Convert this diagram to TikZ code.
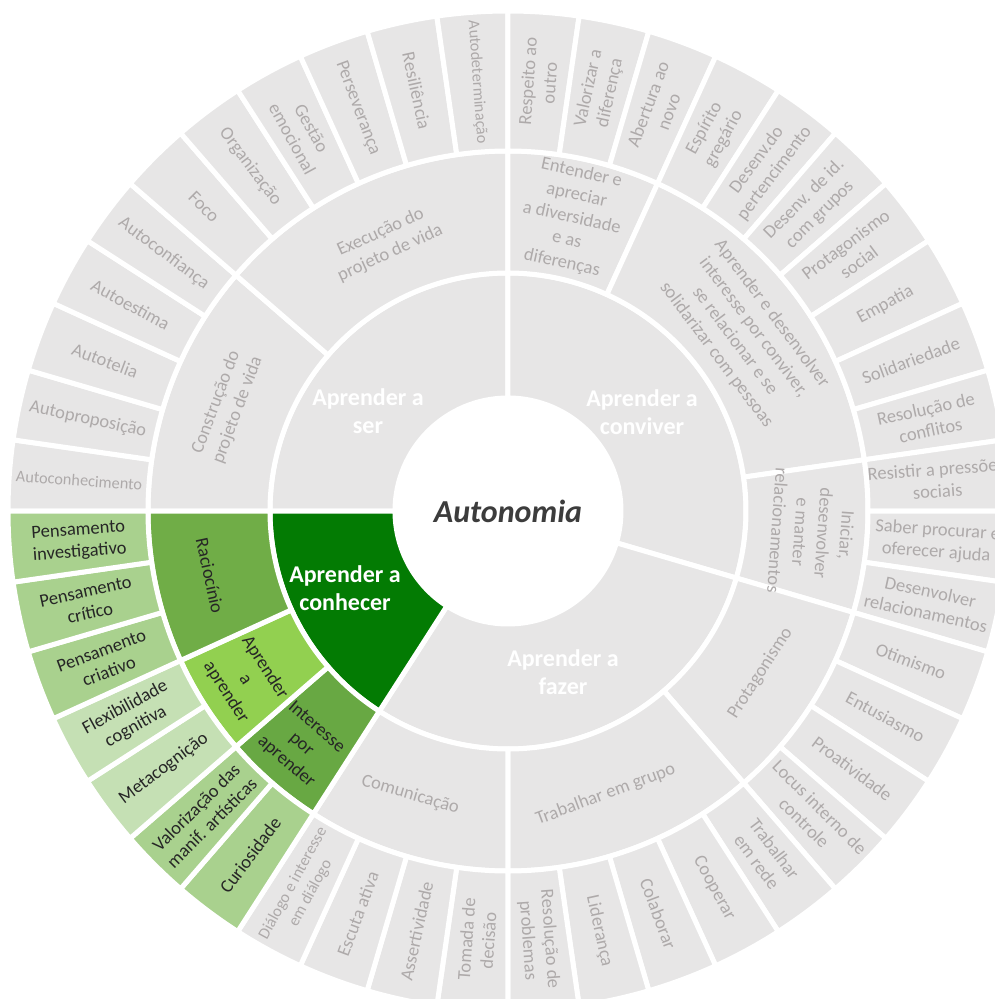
\documentclass[tikz,border=0pt]{standalone}
\usepackage{fontspec}
\setmainfont{Carlito}
\definecolor{greyfill}{HTML}{E7E6E6}
\definecolor{txtgrey}{HTML}{AEAAAA}
\definecolor{txtdark}{HTML}{262626}
\definecolor{conhecerc}{HTML}{037B03}
\definecolor{raciocinioc}{HTML}{70AD47}
\definecolor{aprenderc}{HTML}{92D050}
\definecolor{interessec}{HTML}{68A843}
\definecolor{greenmid}{HTML}{A9D18E}
\definecolor{greenlight}{HTML}{C5E0B4}
\definecolor{centertxt}{HTML}{3C3C3C}
\tikzset{
  cellsty/.style={draw=white, line width=5pt, line join=round},
  lab3/.style={font=\fontsize{18.5}{22}\selectfont, align=center, inner sep=0pt},
  lab2/.style={font=\fontsize{18.5}{23}\selectfont, align=center, inner sep=0pt},
  lab1/.style={font=\fontsize{24}{28}\selectfont\bfseries, text=white, align=center, inner sep=0pt},
  glab/.style={text=txtgrey},
  dlab/.style={text=txtdark},
  small/.style={font=\fontsize{16.3}{20}\selectfont},
}
\newcommand\sector[5]{\filldraw[cellsty, fill=#5] (#3:#1pt) arc[start angle=#3, end angle=#4, radius=#1pt] -- (#4:#2pt) arc[start angle=#4, end angle=#3, radius=#2pt] -- cycle;}
\newcommand\leafsector[2]{%
  \pgfmathsetmacro\lfA{180-#1*360/44}%
  \pgfmathsetmacro\lfB{180-(#1+1)*360/44}%
  \sector{360}{500}{\lfA}{\lfB}{#2}}
\newcommand\leaflabel[4]{%
  \pgfmathsetmacro\lfM{180-(#1+0.5)*360/44}%
  \pgfmathsetmacro\lfR{\lfM>90 ? \lfM-180 : (\lfM<-90 ? \lfM+180 : \lfM)}%
  \node[lab3, rotate=\lfR, #4] (#2) at (\lfM:430pt) {#3};}
\begin{document}
\begin{tikzpicture}
\useasboundingbox (-508pt,-488pt) rectangle (487pt,511pt);
\fill[white] (-508pt,-488pt) rectangle (487pt,511pt);
\clip (-508pt,-488pt) rectangle (487pt,511pt);
% ring 1
\sector{113}{238}{180}{90}{greyfill}
\sector{113}{238}{90}{-16.364}{greyfill}
\sector{113}{238}{-16.364}{-122.727}{greyfill}
\sector{113}{238}{-122.727}{-180}{conhecerc}
% ring 2
\sector{238}{360}{180}{139.091}{greyfill}
\sector{238}{360}{139.091}{90}{greyfill}
\sector{238}{360}{90}{65.455}{greyfill}
\sector{238}{360}{65.455}{8.182}{greyfill}
\sector{238}{360}{8.182}{-16.364}{greyfill}
\sector{238}{360}{-16.364}{-49.091}{greyfill}
\sector{238}{360}{-49.091}{-90}{greyfill}
\sector{238}{360}{-90}{-122.727}{greyfill}
\sector{238}{360}{-122.727}{-139.091}{interessec}
\sector{238}{360}{-139.091}{-155.455}{aprenderc}
\sector{238}{360}{-155.455}{-180}{raciocinioc}
% ring 3
\foreach \i in {0,...,36} {\leafsector{\i}{greyfill}}
\leafsector{37}{greenmid}
\leafsector{38}{greenmid}
\leafsector{39}{greenlight}
\leafsector{40}{greenlight}
\leafsector{41}{greenmid}
\leafsector{42}{greenmid}
\leafsector{43}{greenmid}
% centre
\node[font=\fontsize{32}{36}\selectfont\bfseries\itshape, text=centertxt] (autonomia) at (0,0) {Autonomia};
% ring 1 labels
\node[lab1] (ser) at (-140pt,100pt) {Aprender a\\ser};
\node[lab1] (conviver) at (134pt,99pt) {Aprender a\\conviver};
\node[lab1] (conhecer) at (-163pt,-77pt) {Aprender a\\conhecer};
\node[lab1] (fazer) at (55pt,-161pt) {Aprender a\\fazer};
% ring 2 labels
\node[lab2, glab, rotate=69.545] (construcao) at (159.545:300pt) {Construção do\\projeto de vida};
\node[lab2, glab, rotate=24.545] (execucao) at (114.545:295pt) {Execução do\\projeto de vida};
\node[lab2, glab, rotate=-12.273] (entender) at (77.727:300pt) {Entender e\\apreciar\\a diversidade\\e as\\diferenças};
\node[lab2, glab, rotate=-53.182] (interconv) at (36.818:295pt) {Aprender e desenvolver\\interesse por conviver,\\se relacionar e se\\solidarizar com pessoas};
\node[lab2, glab, rotate=-94.091] (iniciar) at (-4.091:305pt) {Iniciar,\\desenvolver\\e manter\\relacionamentos};
\node[lab2, glab, rotate=57.273] (protagonismo) at (-32.727:300pt) {Protagonismo};
\node[lab2, glab, rotate=20.455] (trabgrupo) at (-71:300pt) {Trabalhar em grupo};
\node[lab2, glab, rotate=-16.364] (comunicacao) at (-109:300pt) {Comunicação};
\node[lab2, dlab, rotate=-40.909] (interesse) at (-131.5:312pt) {Interesse\\por\\aprender};
\node[lab2, dlab, rotate=-57.273] (aprapr) at (-147.273:312pt) {Aprender\\a\\aprender};
\node[lab2, dlab, rotate=-77.727] (raciocinio) at (-167.727:305pt) {Raciocínio};
% ring 3 labels
\leaflabel{0}{autoconhecimento}{Autoconhecimento}{glab, small}
\leaflabel{1}{autoproposicao}{Autoproposição}{glab}
\leaflabel{2}{autotelia}{Autotelia}{glab}
\leaflabel{3}{autoestima}{Autoestima}{glab}
\leaflabel{4}{autoconfianca}{Autoconfiança}{glab}
\leaflabel{5}{foco}{Foco}{glab}
\leaflabel{6}{organizacao}{Organização}{glab}
\leaflabel{7}{gestao}{Gestão\\emocional}{glab}
\leaflabel{8}{perseveranca}{Perseverança}{glab}
\leaflabel{9}{resiliencia}{Resiliência}{glab}
\leaflabel{10}{autodeterminacao}{Autodeterminação}{glab, small}
\leaflabel{11}{respeito}{Respeito ao\\outro}{glab}
\leaflabel{12}{valorizar}{Valorizar a\\diferença}{glab}
\leaflabel{13}{abertura}{Abertura ao\\novo}{glab}
\leaflabel{14}{espirito}{Espírito\\gregário}{glab}
\leaflabel{15}{pertencimento}{Desenv.do\\pertencimento}{glab}
\leaflabel{16}{identidade}{Desenv. de id.\\com grupos}{glab}
\leaflabel{17}{protsocial}{Protagonismo\\social}{glab}
\leaflabel{18}{empatia}{Empatia}{glab}
\leaflabel{19}{solidariedade}{Solidariedade}{glab}
\leaflabel{20}{resolucao}{Resolução de\\conflitos}{glab}
\leaflabel{21}{resistir}{Resistir a pressões\\sociais}{glab}
\leaflabel{22}{saber}{Saber procurar e\\oferecer ajuda}{glab}
\leaflabel{23}{desenvolver}{Desenvolver\\relacionamentos}{glab}
\leaflabel{24}{otimismo}{Otimismo}{glab}
\leaflabel{25}{entusiasmo}{Entusiasmo}{glab}
\leaflabel{26}{proatividade}{Proatividade}{glab}
\leaflabel{27}{locus}{Locus interno de\\controle}{glab}
\leaflabel{28}{rede}{Trabalhar\\em rede}{glab}
\leaflabel{29}{cooperar}{Cooperar}{glab}
\leaflabel{30}{colaborar}{Colaborar}{glab}
\leaflabel{31}{lideranca}{Liderança}{glab}
\leaflabel{32}{problemas}{Resolução de\\problemas}{glab}
\leaflabel{33}{decisao}{Tomada de\\decisão}{glab}
\leaflabel{34}{assertividade}{Assertividade}{glab}
\leaflabel{35}{escuta}{Escuta ativa}{glab}
\leaflabel{36}{dialogo}{Diálogo e interesse\\em diálogo}{glab, small}
\leaflabel{37}{curiosidade}{Curiosidade}{dlab}
\leaflabel{38}{valorizacao}{Valorização das\\manif. artísticas}{dlab}
\leaflabel{39}{metacognicao}{Metacognição}{dlab}
\leaflabel{40}{flexibilidade}{Flexibilidade\\cognitiva}{dlab}
\leaflabel{41}{criativo}{Pensamento\\criativo}{dlab}
\leaflabel{42}{critico}{Pensamento\\crítico}{dlab}
\leaflabel{43}{investigativo}{Pensamento\\investigativo}{dlab}
\end{tikzpicture}
\end{document}
